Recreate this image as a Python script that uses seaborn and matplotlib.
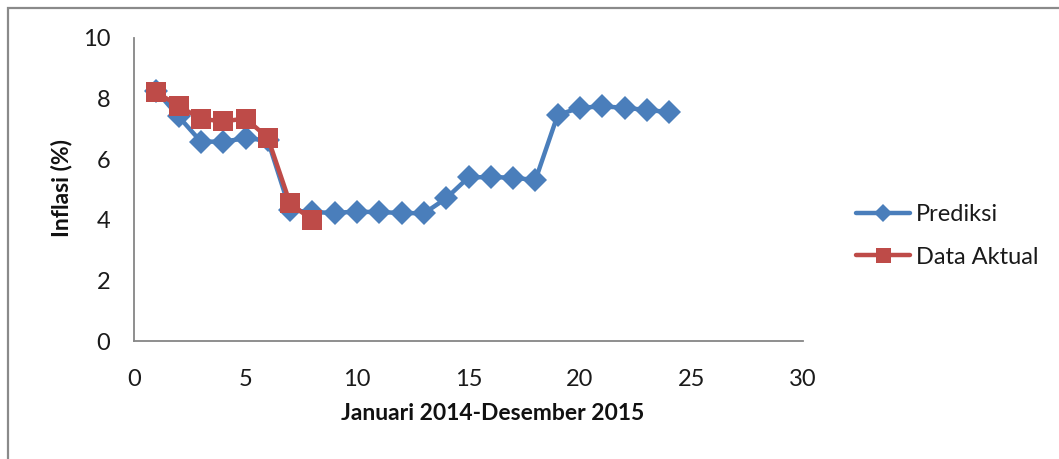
import matplotlib
matplotlib.use("Agg")
import matplotlib.pyplot as plt
from matplotlib.patches import Rectangle
import seaborn as sns
import pandas as pd

# Monthly inflation, January 2014 - December 2015
bulan_prediksi = list(range(1, 25))
prediksi = [8.25, 7.41, 6.58, 6.58, 6.69, 6.62, 4.32, 4.25, 4.23, 4.27, 4.25, 4.23,
            4.21, 4.71, 5.40, 5.41, 5.39, 5.31, 7.46, 7.70, 7.74, 7.70, 7.62, 7.56]
bulan_aktual = list(range(1, 9))
aktual = [8.21, 7.76, 7.33, 7.25, 7.34, 6.71, 4.54, 3.99]

x_ticks = [0, 5, 10, 15, 20, 25, 30]
y_ticks = [0, 2, 4, 6, 8, 10]

sns.set_theme(style="white")
plt.rcParams["font.family"] = ["Lato", "DejaVu Sans"]

BLUE = "#4A7EBB"
RED = "#BE4B48"
AXIS_GREY = "#868686"

W, H = 1059, 459
fig = plt.figure(figsize=(W / 100, H / 100), dpi=100)
ax = fig.add_axes([134 / W, (H - 341) / H, (803 - 134) / W, (341 - 38) / H])

df_p = pd.DataFrame({"bulan": bulan_prediksi, "inflasi": prediksi})
df_a = pd.DataFrame({"bulan": bulan_aktual, "inflasi": aktual})

sns.lineplot(data=df_p, x="bulan", y="inflasi", ax=ax, color=BLUE, lw=3.2,
             marker="D", markersize=12.5, markeredgewidth=0,
             label="Prediksi", zorder=2)
sns.lineplot(data=df_a, x="bulan", y="inflasi", ax=ax, color=RED, lw=3.2,
             marker="s", markersize=15, markeredgewidth=0,
             label="Data Aktual", zorder=3)

ax.set_xlim(0, 30)
ax.set_ylim(0, 10)
ax.set_xticks(x_ticks)
ax.set_yticks(y_ticks)
ax.tick_params(axis="both", length=0, labelsize=17, colors="#1a1a1a")
ax.tick_params(axis="x", pad=20)
ax.tick_params(axis="y", pad=17)

for side in ("top", "right"):
    ax.spines[side].set_visible(False)
for side in ("left", "bottom"):
    ax.spines[side].set_color(AXIS_GREY)
    ax.spines[side].set_linewidth(1.3)

ax.set_xlabel("")
ax.set_ylabel("")
fig.text(493 / W, (H - 414) / H, "Januari 2014-Desember 2015", ha="center",
         va="center", fontsize=16.5, fontweight="bold", color="#111111")
fig.text(61 / W, (H - 188) / H, "Inflasi (%)", ha="center", va="center",
         rotation=90, fontsize=16.5, fontweight="bold", color="#111111")

ax.get_legend().remove()
handles, labels = ax.get_legend_handles_labels()
leg = fig.legend(handles, labels, loc="center left",
                 bbox_to_anchor=(856 / W, (H - 236) / H),
                 bbox_transform=fig.transFigure, frameon=False,
                 fontsize=17, handlelength=2.3, handletextpad=0.25,
                 labelspacing=0.9, borderpad=0, borderaxespad=0,
                 markerscale=0.72)
for t in leg.get_texts():
    t.set_color("#1a1a1a")

# outer chart-area border
fig.patches.append(Rectangle((8 / W, -0.2), 1.2, (H - 8) / H + 0.2,
                             transform=fig.transFigure, fill=False,
                             edgecolor="#8a8a8a", lw=1.6, zorder=0))

fig.savefig("out.png", dpi=100, facecolor="white")
